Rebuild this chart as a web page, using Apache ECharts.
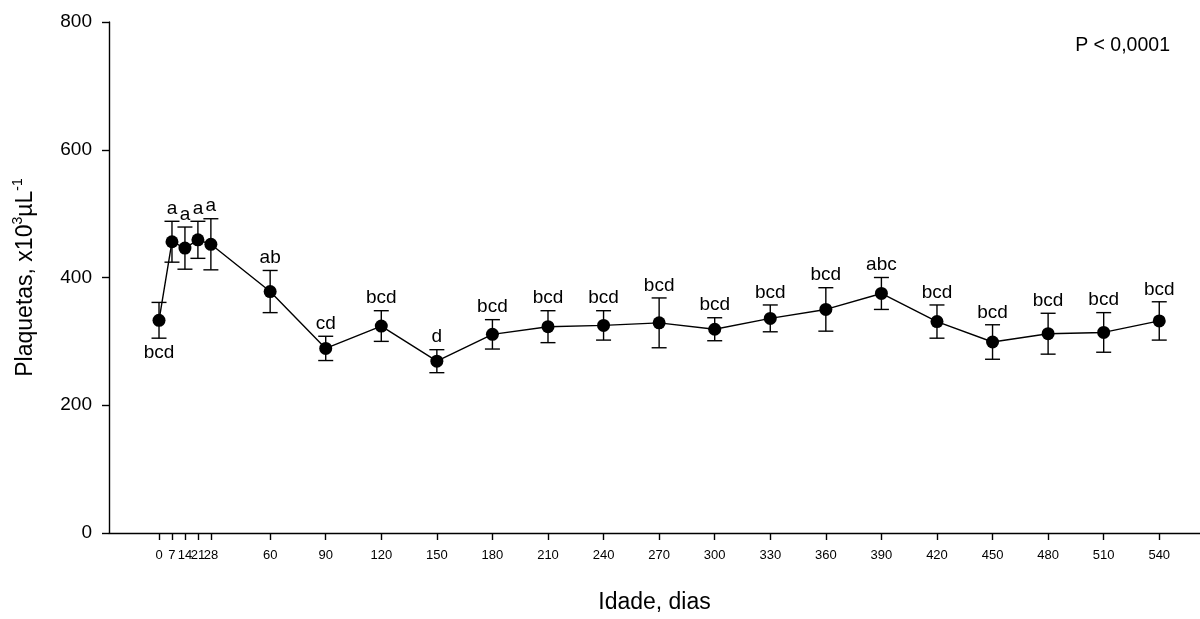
<!DOCTYPE html>
<html>
<head>
<meta charset="utf-8">
<script src="https://cdn.jsdelivr.net/npm/echarts@6/dist/echarts.min.js"></script>
<style>
  html, body { margin: 0; padding: 0; background: #fff; }
  #chart { width: 1200px; height: 619px; }
</style>
</head>
<body>
<div id="chart"></div>
<script>
// Age in days at each sampling point
const days = [0, 7, 14, 21, 28, 60, 90, 120, 150, 180, 210, 240, 270, 300, 330, 360, 390, 420, 450, 480, 510, 540];
// Mean platelet count (x10^3 / µL)
const means = [333, 456, 446, 459, 452, 378, 289, 324, 269, 311, 323, 325, 329, 319, 336, 350, 375, 331, 299, 312, 314, 332];
// Standard error of each mean
const errs = [28, 32, 33, 29, 40, 33, 19, 24, 18, 23, 25, 23, 39, 18, 21, 34, 25, 26, 27, 32, 31, 30];
// Significance letters and where they sit relative to the error bar
const letters = ['bcd', 'a', 'a', 'a', 'a', 'ab', 'cd', 'bcd', 'd', 'bcd', 'bcd', 'bcd', 'bcd', 'bcd', 'bcd', 'bcd', 'abc', 'bcd', 'bcd', 'bcd', 'bcd', 'bcd'];
const letterSide = ['below', 'above', 'above', 'above', 'above', 'above', 'above', 'above', 'above', 'above', 'above', 'above', 'above', 'above', 'above', 'above', 'above', 'above', 'above', 'above', 'above', 'above'];
// Axis ticks
const yTicks = [0, 200, 400, 600, 800];
const pText = 'P < 0,0001';

const FONT = '"Liberation Sans", Arial, Helvetica, sans-serif';
const INK = '#000';

const chart = echarts.init(document.getElementById('chart'), null, { renderer: 'canvas' });

function renderErrorBar(params, api) {
  const x = api.value(0);
  const m = api.value(1);
  const e = api.value(2);
  const top = api.coord([x, m + e]);
  const bot = api.coord([x, m - e]);
  const hw = 7.5;
  const lineStyle = { stroke: INK, lineWidth: 1.4 };
  const i = params.dataIndex;
  const below = letterSide[i] === 'below';
  return {
    type: 'group',
    children: [
      { type: 'line', shape: { x1: top[0], y1: top[1], x2: bot[0], y2: bot[1] }, style: lineStyle },
      { type: 'line', shape: { x1: top[0] - hw, y1: top[1], x2: top[0] + hw, y2: top[1] }, style: lineStyle },
      { type: 'line', shape: { x1: bot[0] - hw, y1: bot[1], x2: bot[0] + hw, y2: bot[1] }, style: lineStyle },
      {
        type: 'text',
        style: {
          text: letters[i],
          x: top[0],
          y: below ? bot[1] + 5 : top[1] - 3,
          align: 'center',
          verticalAlign: below ? 'top' : 'bottom',
          fontSize: 19,
          fontFamily: FONT,
          fill: INK
        }
      }
    ]
  };
}

const option = {
  backgroundColor: '#fff',
  animation: false,
  grid: { left: 109, right: 0, top: 22, bottom: 79, containLabel: false },
  xAxis: {
    type: 'value',
    min: -27,
    max: 562,
    name: 'Idade, dias',
    nameLocation: 'middle',
    nameGap: 58,
    nameTextStyle: { fontSize: 23, fontFamily: FONT, color: INK },
    axisLine: { show: true, onZero: false, lineStyle: { color: INK, width: 1.4 } },
    axisTick: { show: true, length: 7, customValues: days, lineStyle: { color: INK, width: 1.4 } },
    axisLabel: { customValues: days, fontSize: 13, fontFamily: FONT, color: INK, margin: 16, hideOverlap: false },
    splitLine: { show: false }
  },
  yAxis: {
    type: 'value',
    min: 0,
    max: 800,
    interval: 200,
    name: '{b|Plaquetas, x10}{s|3}{b|µL}{s|-1}',
    nameLocation: 'middle',
    nameGap: 68,
    nameTextStyle: {
      fontFamily: FONT,
      color: INK,
      rich: {
        b: { fontSize: 23, lineHeight: 30, fontFamily: FONT, color: INK },
        s: { fontSize: 14, lineHeight: 14, verticalAlign: 'top', fontFamily: FONT, color: INK }
      }
    },
    axisLine: { show: true, onZero: false, lineStyle: { color: INK, width: 1.4 } },
    axisTick: { show: true, length: 7, lineStyle: { color: INK, width: 1.4 } },
    axisLabel: {
      fontSize: 19, fontFamily: FONT, color: INK, margin: 17,
      formatter: v => (yTicks.indexOf(v) >= 0 ? String(v) : '')
    },
    splitLine: { show: false }
  },
  graphic: [
    {
      type: 'text',
      right: 30,
      top: 36,
      style: { text: pText, fontSize: 19.5, fontFamily: FONT, fill: INK }
    }
  ],
  series: [
    {
      type: 'custom',
      renderItem: renderErrorBar,
      clip: false,
      data: days.map((d, i) => [d, means[i], errs[i]]),
      z: 2
    },
    {
      type: 'line',
      data: days.map((d, i) => [d, means[i]]),
      symbol: 'circle',
      symbolSize: 13,
      itemStyle: { color: INK },
      lineStyle: { color: INK, width: 1.4 },
      z: 3
    }
  ]
};

chart.setOption(option);
</script>
</body>
</html>
